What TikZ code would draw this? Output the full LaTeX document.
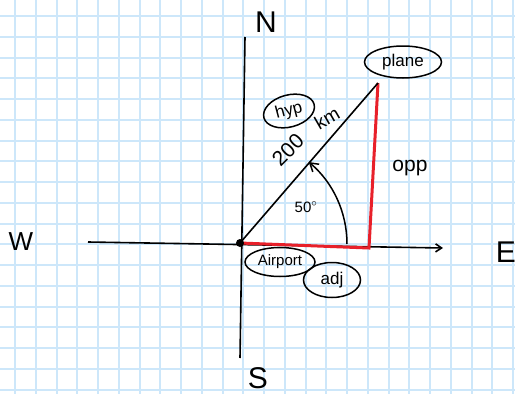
\documentclass[tikz,border=0pt]{standalone}
\usepackage{fontspec}
\setmainfont{Liberation Sans}
\usetikzlibrary{arrows.meta, shapes.geometric}
\definecolor{cgrid}{HTML}{CDE7FA}
\definecolor{cred}{HTML}{E8202A}
\tikzset{
  every picture/.style={line width=1.5pt},
  gridline/.style={draw=cgrid, line width=2pt},
  axis/.style={draw=black, line width=1.6pt},
  side/.style={draw=cred, line width=3pt},
  tag/.style={draw, ellipse, line width=1.5pt, inner sep=0pt, font=\fontsize{17}{17}\selectfont},
  compass/.style={font=\fontsize{30}{30}\selectfont},
  hand/.style={font=\fontsize{21}{21}\selectfont},
}
\begin{document}
\begin{tikzpicture}[x=1pt, y=-1pt]
  \useasboundingbox[fill=white] (0,0) rectangle (515,394);
  % squared paper
  \foreach \i in {0,...,24} \draw[gridline] ({15+20.75*\i},0) -- ({15+20.75*\i},394);
  \foreach \j in {0,...,18} \draw[gridline] (0,{16+20.75*\j}) -- (515,{16+20.75*\j});
  % compass
  \coordinate (o) at (240,243);
  \coordinate (n) at (245,37);
  \coordinate (s) at (240,358);
  \coordinate (w) at (88,242);
  \coordinate (e) at (443,248);
  \node[compass] (north) at (266,22) {N};
  \node[compass] (south) at (258,378) {S};
  \node[compass, font=\fontsize{26}{26}\selectfont] (west) at (21,242) {W};
  \node[compass] (east) at (506,252) {E};
  \draw[axis] (n) -- (s);
  \draw[axis, -{Straight Barb[length=6pt, width=8pt]}] (w) -- (e);
  % triangle
  \coordinate (p) at (378,83);
  \coordinate (f) at (369,248);
  \draw[side] (o) -- (f) -- (p);
  \draw[axis] (o) -- (p);
  \fill (o) circle (4);
  \draw[-{Straight Barb[length=8pt, width=10pt]}] (347,244) arc[start angle=0, end angle=-50, radius=107];
  % labels
  \node[tag, minimum width=77pt, minimum height=32pt] (plane) at (403,62) {plane};
  \node[tag, minimum width=52pt, minimum height=32pt, rotate=15] (hyp) at (289,111) {hyp};
  \node[hand, rotate=45] (dist) at (288,150) {200};
  \node[hand, font=\fontsize{19}{19}\selectfont, rotate=30] (unit) at (327,118) {km};
  \node[hand] (opp) at (410,168) {opp};
  \node[font=\fontsize{15}{15}\selectfont] (ang) at (306,207) {50$^\circ$};
  \node[tag, minimum width=70pt, minimum height=29pt, font=\fontsize{15}{15}\selectfont] (airport) at (280,262) {Airport};
  \node[tag, minimum width=57pt, minimum height=35pt] (adj) at (332,280) {adj};
\end{tikzpicture}
\end{document}
